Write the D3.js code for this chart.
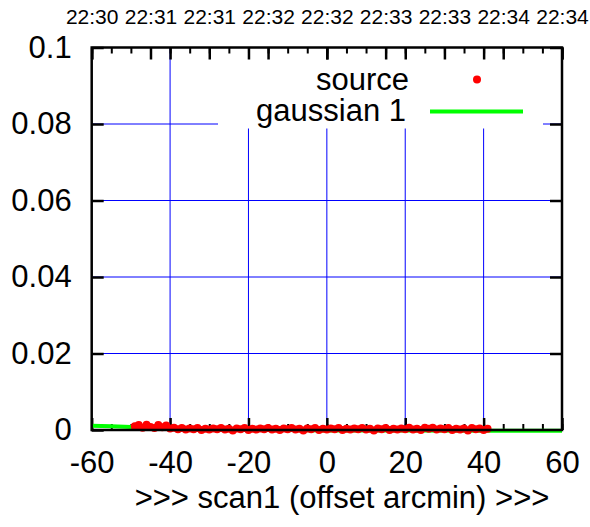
<!DOCTYPE html>
<html>
<head>
<meta charset="utf-8">
<script src="https://cdn.jsdelivr.net/npm/d3@7"></script>
<style>
  body { margin: 0; background: #fff; }
  svg { display: block; font-family: "Liberation Sans", Arial, sans-serif; }
</style>
</head>
<body>
<svg id="chart" width="590" height="527"></svg>
<script>
// tick values
const xTicks = [-60, -40, -20, 0, 20, 40, 60];
const xMinor = d3.range(-60, 61, 5);
const yTicks = [0, 0.02, 0.04, 0.06, 0.08, 0.1];
const yLabels = ["0", "0.02", "0.04", "0.06", "0.08", "0.1"];
const timeTicks = [-60, -45, -30, -15, 0, 15, 30, 45, 60];
const timeLabels = ["22:30", "22:31", "22:31", "22:32", "22:32", "22:33", "22:33", "22:34", "22:34"];

// source points (offset arcmin, value)
const srcX = d3.range(-49, 42, 1);
const srcY = [
  0.0010, 0.0013, 0.0006, 0.0014, 0.0008, 0.0005, 0.0013, 0.0007, 0.0012, 0.0004,
  0.0006, 0.0002, 0.0005, 0.0001, 0.0004, 0.0002, 0.0005, 0.0000, 0.0003, 0.0001,
  0.0004, 0.0002, 0.0005, 0.0001, 0.0003, -0.0001, 0.0004, 0.0002, 0.0005, 0.0000,
  0.0003, 0.0001, 0.0004, 0.0002, 0.0005, 0.0001, 0.0003, 0.0000, 0.0004, 0.0002,
  0.0005, 0.0001, 0.0003, -0.0001, 0.0004, 0.0002, 0.0005, 0.0000, 0.0003, 0.0001,
  0.0004, 0.0002, 0.0005, 0.0000, 0.0003, 0.0001, 0.0004, 0.0002, 0.0005, 0.0001,
  0.0003, -0.0001, 0.0004, 0.0002, 0.0005, 0.0000, 0.0003, 0.0001, 0.0004, 0.0002,
  0.0006, 0.0001, 0.0003, 0.0000, 0.0006, 0.0003, 0.0006, 0.0001, 0.0004, 0.0002,
  0.0005, 0.0000, 0.0003, 0.0001, 0.0004, -0.0001, 0.0005, 0.0002, 0.0004, 0.0000,
  0.0003
];

// gaussian fit curve
const gaussX = [-60, -55, -50, -45, -40, -35, -30, -20, -10, 0, 20, 40, 60];
const gaussY = [0.0011, 0.0010, 0.0008, 0.0007, 0.0005, 0.0003, 0.0002, 0.0001, 0.0000, -0.0001, -0.0001, -0.0002, -0.0002];

const plotLeft = 91.7, plotRight = 562, plotTop = 47.5, plotBottom = 430;

const svg = d3.select("#chart");

const x = d3.scaleLinear().domain([-60, 60]).range([plotLeft, plotRight]);
const y = d3.scaleLinear().domain([0, 0.1]).range([plotBottom, plotTop]);

// grid
const grid = svg.append("g").attr("stroke", "#0000ff").attr("stroke-width", 1);
grid.selectAll(".gx")
  .data(xTicks.slice(1, -1))
  .enter().append("line")
  .attr("x1", d => x(d)).attr("x2", d => x(d))
  .attr("y1", plotBottom).attr("y2", plotTop);
grid.selectAll(".gy")
  .data(yTicks.slice(1, -1))
  .enter().append("line")
  .attr("x1", plotLeft).attr("x2", plotRight)
  .attr("y1", d => y(d)).attr("y2", d => y(d));

// legend background hides the grid behind the key
svg.append("rect")
  .attr("x", 218).attr("y", plotTop + 1)
  .attr("width", 325).attr("height", 80)
  .attr("fill", "#fff");

// axes
const fontSize = 31;
function styleAxis(g) {
  g.select(".domain").remove();
  g.attr("font-family", null).attr("font-size", null)
    .style("color", "#000");
  g.selectAll(".tick line").attr("stroke-width", 2.5);
  g.selectAll("text").style("font-size", fontSize + "px");
}

svg.append("g")
  .attr("transform", `translate(0,${plotBottom})`)
  .call(d3.axisBottom(x).tickValues(xMinor).tickSize(-6).tickSizeOuter(0).tickFormat(""))
  .call(g => { g.select(".domain").remove(); g.style("color", "#000"); g.selectAll("line").attr("stroke-width", 2); });

svg.append("g")
  .attr("transform", `translate(0,${plotBottom})`)
  .call(d3.axisBottom(x).tickValues(xTicks).tickSize(-12).tickSizeOuter(0).tickPadding(21).tickFormat(d3.format("d")))
  .call(styleAxis)
  .call(g => g.selectAll("text").text(d => d < 0 ? "-" + Math.abs(d) : d));

svg.append("g")
  .attr("transform", `translate(0,${plotTop})`)
  .call(d3.axisTop(x).tickValues(xMinor).tickSize(-6).tickSizeOuter(0).tickFormat(""))
  .call(g => { g.select(".domain").remove(); g.style("color", "#000"); g.selectAll("line").attr("stroke-width", 2); });

svg.append("g")
  .attr("transform", `translate(0,${plotTop})`)
  .call(d3.axisTop(x).tickValues(xTicks).tickSize(-12).tickSizeOuter(0).tickFormat(""))
  .call(styleAxis);

svg.append("g")
  .attr("transform", `translate(0,${plotTop})`)
  .call(d3.axisTop(x).tickValues(timeTicks).tickSize(-12).tickSizeOuter(0).tickPadding(23.5)
    .tickFormat((d, i) => timeLabels[i]))
  .call(styleAxis)
  .call(g => g.selectAll("text").style("font-size", "21px"));

svg.append("g")
  .attr("transform", `translate(${plotLeft},0)`)
  .call(d3.axisLeft(y).tickValues(yTicks).tickSize(-12).tickSizeOuter(0).tickPadding(20)
    .tickFormat((d, i) => yLabels[i]))
  .call(styleAxis);

svg.append("g")
  .attr("transform", `translate(${plotRight},0)`)
  .call(d3.axisRight(y).tickValues(yTicks).tickSize(-12).tickSizeOuter(0).tickFormat(""))
  .call(styleAxis);

// gaussian curve
svg.append("path")
  .datum(gaussX.map((d, i) => [d, gaussY[i]]))
  .attr("fill", "none")
  .attr("stroke", "#00ff00")
  .attr("stroke-width", 4)
  .attr("d", d3.line().x(d => x(d[0])).y(d => y(d[1])));

// source points
svg.append("g")
  .selectAll("circle")
  .data(srcX.map((d, i) => [d, srcY[i]]))
  .enter().append("circle")
  .attr("cx", d => x(d[0]))
  .attr("cy", d => y(d[1]))
  .attr("r", 4)
  .attr("fill", "#ff0000");

// border
svg.append("rect")
  .attr("x", plotLeft).attr("y", plotTop)
  .attr("width", plotRight - plotLeft).attr("height", plotBottom - plotTop)
  .attr("fill", "none")
  .attr("stroke", "#000")
  .attr("stroke-width", 2.5);

// legend
const legend = svg.append("g").style("font-size", fontSize + "px");
legend.append("text")
  .attr("x", 409).attr("y", 90)
  .attr("text-anchor", "end")
  .text("source");
legend.append("circle")
  .attr("cx", 477).attr("cy", 79.5)
  .attr("r", 4)
  .attr("fill", "#ff0000");
legend.append("text")
  .attr("x", 406).attr("y", 121)
  .attr("text-anchor", "end")
  .text("gaussian 1");
legend.append("line")
  .attr("x1", 430).attr("x2", 523)
  .attr("y1", 111.5).attr("y2", 111.5)
  .attr("stroke", "#00ff00")
  .attr("stroke-width", 4);

// x axis title
svg.append("text")
  .attr("x", 342)
  .attr("y", 508)
  .attr("text-anchor", "middle")
  .style("font-size", fontSize + "px")
  .text(">>> scan1 (offset arcmin) >>>");
</script>
</body>
</html>
